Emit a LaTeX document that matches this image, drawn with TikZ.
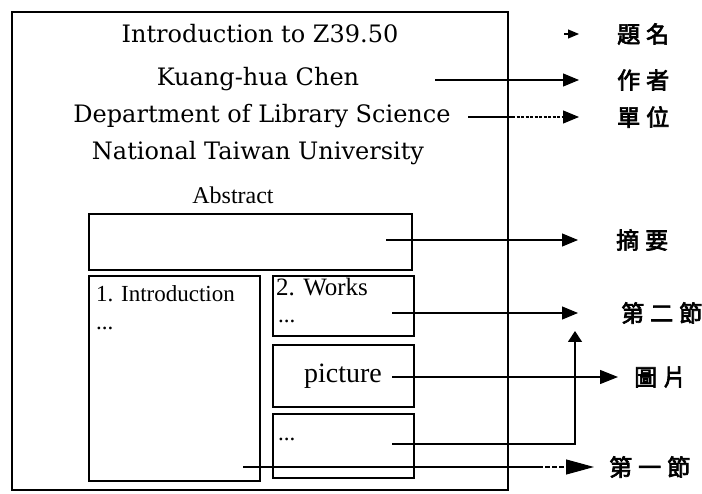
\documentclass[tikz,border=0pt]{standalone}
\usepackage{fontspec}
\setmainfont{Liberation Serif}
\newfontfamily\hdfont{DejaVu Serif}
\newfontfamily\cjk[FakeBold=3]{Noto Sans CJK TC}
\usetikzlibrary{arrows.meta}
\newcommand{\cjksp}{\hspace{6pt}}
\begin{document}
\begin{tikzpicture}[x=1pt,y=-1pt,
  box/.style={draw, line width=2.4pt, anchor=north west, inner sep=0pt},
  arr/.style={-{Triangle[length=16pt,width=13pt]}, line width=1.1pt},
  hd/.style={font=\hdfont\fontsize{24}{28}\selectfont, inner sep=0pt},
  tx/.style={font=\fontsize{23}{26}\selectfont, inner sep=0pt, anchor=base west},
  lab/.style={font=\cjk\fontsize{23}{26}\selectfont, inner sep=0pt, anchor=west}]
\useasboundingbox (0,0) rectangle (702,494);
% outer page
\node[draw, line width=2pt, anchor=north west, inner sep=0pt, minimum width=496pt, minimum height=478pt] (page) at (11,11) {};
% header lines
\node[hd] (title) at (260,34) {Introduction to Z39.50};
\node[hd] (author) at (258,79) {Kuang-hua Chen};
\node[hd] (dept) at (262,116) {Department of Library Science};
\node[hd] (univ) at (258,153) {National Taiwan University};
\node[font=\fontsize{24}{26}\selectfont, inner sep=0pt] (abslab) at (233,195) {Abstract};
% boxes
\node[box, minimum width=323pt, minimum height=56pt] (abs) at (88,213) {};
\node[box, minimum width=171pt, minimum height=205pt] (intro) at (88,275) {};
\node[box, minimum width=141pt, minimum height=60pt] (works) at (272,275) {};
\node[box, minimum width=141pt, minimum height=62pt] (pic) at (272,344) {};
\node[box, minimum width=141pt, minimum height=64pt] (more) at (272,413) {};
% box texts
\node[tx] (introt) at (96,302) {1. Introduction};
\node[tx] (introd) at (96,330) {...};
\node[tx, font=\fontsize{25}{27}\selectfont] (workst) at (276,296) {2. Works};
\node[tx] (worksd) at (278,323) {...};
\node[font=\fontsize{28}{30}\selectfont, inner sep=0pt] (pict) at (343,376) {picture};
\node[tx] (mored) at (278,440) {...};
% labels
\node[lab] (l1) at (617,34) {題\cjksp 名};
\node[lab] (l2) at (617,80) {作\cjksp 者};
\node[lab] (l3) at (617,117) {單\cjksp 位};
\node[lab] (l4) at (616,240) {摘\cjksp 要};
\node[lab] (l5) at (621,313) {第\cjksp 二\cjksp 節};
\node[lab] (l6) at (634,377) {圖\cjksp 片};
\node[lab] (l7) at (609,467) {第\cjksp 一\cjksp 節};
% connector coordinates
\coordinate (s1) at (564,34);  \coordinate (e1) at (579,34);
\coordinate (s2) at (435,80);  \coordinate (e2) at (579,80);
\coordinate (s3) at (468,117); \coordinate (m3) at (512,117); \coordinate (e3) at (579,117);
\coordinate (s4) at (386,240); \coordinate (e4) at (578,240);
\coordinate (s5) at (392,313); \coordinate (e5) at (578,313);
\coordinate (s6) at (392,377); \coordinate (e6) at (618,377);
\coordinate (s7) at (392,444); \coordinate (k7) at (575,444); \coordinate (e7) at (575,331);
\coordinate (s8) at (243,467); \coordinate (m8) at (538,467); \coordinate (e8) at (594,467);
% connectors
\draw[-{Triangle[length=11pt,width=9pt]}, line width=1.1pt] (s1) -- (e1);
\draw[arr] (s2) -- (e2);
\draw[line width=1.1pt] (s3) -- (m3);
\draw[arr, dash pattern=on 3pt off 1.5pt] (m3) -- (e3);
\draw[arr] (s4) -- (e4);
\draw[arr] (s5) -- (e5);
\draw[-{Triangle[length=18pt,width=14pt]}, line width=1.1pt] (s6) -- (e6);
\draw[-{Triangle[length=11pt,width=14pt]}, line width=1.3pt] (s7) -- (k7) -- (e7);
\draw[line width=1.1pt] (s8) -- (m8);
\draw[-{Triangle[length=28pt,width=15pt]}, line width=1.1pt, dash pattern=on 5pt off 2pt] (m8) -- (e8);
\end{tikzpicture}
\end{document}
